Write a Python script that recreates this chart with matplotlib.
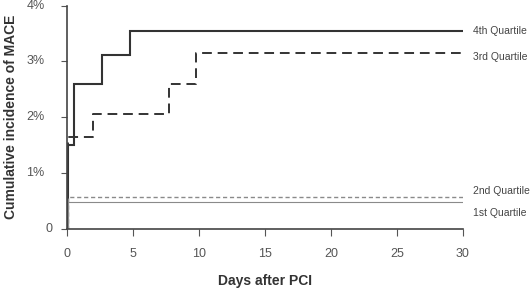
import matplotlib
matplotlib.use("Agg")
import matplotlib.pyplot as plt
import matplotlib.transforms as mtransforms

# Data (days, cumulative incidence %)
q4_days = [0, 0.1, 0.55, 2.65, 4.75, 30]
q4_vals = [0, 1.5, 2.6, 3.12, 3.55, 3.55]
q3_days = [0, 0.05, 2.0, 7.7, 9.8, 30]
q3_vals = [0, 1.65, 2.05, 2.6, 3.15, 3.15]
q2_days = [0, 0.05, 30]
q2_vals = [0, 0.57, 0.57]
q1_days = [0, 0.05, 30]
q1_vals = [0, 0.48, 0.48]

labels = ["4th Quartile", "3rd Quartile", "2nd Quartile", "1st Quartile"]
label_y = [3.55, 3.08, 0.68, 0.28]

xticks = [0, 5, 10, 15, 20, 25, 30]
yticks = [0, 1, 2, 3, 4]
yticklabels = ["0", "1%", "2%", "3%", "4%"]

plt.rcParams['font.family'] = ['Liberation Sans', 'DejaVu Sans']

fig = plt.figure(figsize=(5.32, 2.9), dpi=100)
ax = fig.add_axes([0.126, 0.211, 0.744, 0.770])

dark = "#333333"
grey = "#8a8a8a"
ax.step(q4_days, q4_vals, where="post", color=dark, lw=1.5, solid_joinstyle="miter")
ax.step(q3_days, q3_vals, where="post", color=dark, lw=1.4, dashes=(5, 3))
ax.step(q2_days, q2_vals, where="post", color=grey, lw=1.0, dashes=(3, 2))
ax.step(q1_days, q1_vals, where="post", color=grey, lw=0.8)

ax.set_xlim(0, 30)
ax.set_ylim(0, 4)
ax.spines['top'].set_visible(False)
ax.spines['right'].set_visible(False)
for s in ['left', 'bottom']:
    ax.spines[s].set_color("#444444")
    ax.spines[s].set_linewidth(1.2)

ax.set_xticks(xticks)
ax.set_xticklabels([str(v) for v in xticks], color="#555555", fontsize=9)
ax.tick_params(axis='x', direction='out', length=5, pad=9, color="#555555", width=0.8)
ax.set_yticks(yticks)
ax.set_yticklabels([])
ax.tick_params(axis='y', direction='out', length=4, color="#555555", width=0.8)

trans = mtransforms.blended_transform_factory(ax.transAxes, ax.transData)
for v, lab in zip(yticks, yticklabels):
    xa = -0.037 if lab == "0" else -0.057
    ax.text(xa, v, lab, transform=trans, ha="right", va="center",
            color="#555555", fontsize=9)

for lab, y in zip(labels, label_y):
    ax.text(30.8, y, lab, ha="left", va="center", color="#444444", fontsize=7.5,
            clip_on=False)

ax.set_xlabel("Days after PCI", fontsize=10, fontweight="bold", color="#333333",
              labelpad=10)
ax.set_ylabel("Cumulative incidence of MACE", fontsize=10, fontweight="bold",
              color="#333333", labelpad=28)

fig.savefig("out.png", dpi=100)
